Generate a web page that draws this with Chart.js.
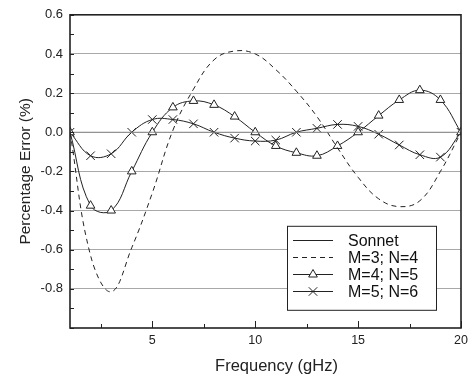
<!DOCTYPE html>
<html>
<head>
<meta charset="utf-8">
<script src="https://cdn.jsdelivr.net/npm/chart.js@4/dist/chart.umd.min.js"></script>
<style>
html,body{margin:0;padding:0;background:#fff;}
canvas{display:block;}
</style>
</head>
<body>
<canvas id="c" width="475" height="374"></canvas>
<script>
// ---- data ----
const freq = [1,2,3,4,5,6,7,8,9,10,11,12,13,14,15,16,17,18,19,20];
const sonnet = [0,0,0,0,0,0,0,0,0,0,0,0,0,0,0,0,0,0,0,0];
const m3n4 = [0,-0.63,-0.815,-0.59,-0.31,0.01,0.22,0.37,0.415,0.40,0.32,0.21,0.08,-0.08,-0.23,-0.34,-0.38,-0.35,-0.20,0];
const m4n5 = [0,-0.375,-0.40,-0.20,0.0,0.127,0.16,0.14,0.08,0.0,-0.07,-0.105,-0.12,-0.07,0.0,0.085,0.165,0.215,0.165,0];
const m5n6 = [0,-0.12,-0.11,0.0,0.065,0.065,0.043,0.0,-0.03,-0.045,-0.04,0.0,0.02,0.04,0.03,-0.01,-0.065,-0.115,-0.127,0];
const seriesLabels = ["Sonnet","M=3; N=4","M=4; N=5","M=5; N=6"];
const xTickValues = [5,10,15,20];
const yTickLabelValues = [0.6,0.4,0.2,0.0,-0.2,-0.4,-0.6,-0.8];
const xTitle = "Frequency (gHz)";
const yTitle = "Percentage Error (%)";

const FONT = "'Liberation Sans', Arial, sans-serif";
const pts = (arr) => freq.map((f,i)=>({x:f,y:arr[i]}));

const framePlugin = {
  id:'frame',
  afterDraw(chart){
    const {ctx, chartArea:a, scales:{x,y}} = chart;
    ctx.save();
    ctx.strokeStyle = '#222';
    ctx.lineWidth = 1;
    // y ticks every 0.1 inward
    for (let v=-10; v<=6; v++){
      const py = Math.round(y.getPixelForValue(v/10))+0.5;
      ctx.beginPath(); ctx.moveTo(a.left, py); ctx.lineTo(a.left+4, py); ctx.stroke();
    }
    // x ticks every 2.5 inward
    for (let v=2.5; v<=20; v+=2.5){
      const px = Math.round(x.getPixelForValue(v))+0.5;
      const len = (v%5===0)?7:4;
      ctx.beginPath(); ctx.moveTo(px, a.bottom); ctx.lineTo(px, a.bottom-len); ctx.stroke();
    }
    // frame
    ctx.lineWidth = 1.6;
    ctx.strokeRect(a.left, a.top, a.right-a.left, a.bottom-a.top);

    // x axis title
    const xt = chart.options.scales.x.title;
    ctx.fillStyle = '#222';
    ctx.font = '16.5px ' + FONT;
    ctx.textAlign = 'center';
    ctx.textBaseline = 'alphabetic';
    ctx.fillText(xt.text, (a.left+a.right)/2 + 11, a.bottom + 43);

    // legend
    ctx.textAlign = 'left';
    const ds = chart.data.datasets;
    const bx = a.right-174, by = a.top+211, bw = 149, bh = 84;
    ctx.fillStyle = '#fff';
    ctx.fillRect(bx, by, bw, bh);
    ctx.lineWidth = 1;
    ctx.strokeStyle = '#222';
    ctx.strokeRect(bx+0.5, by+0.5, bw, bh);
    ctx.font = '16px ' + FONT;
    ctx.textBaseline = 'middle';
    ds.forEach((d,i)=>{
      const ly = Math.round(by + 14 + i*17)+0.5;
      ctx.strokeStyle = '#222';
      ctx.lineWidth = 1;
      ctx.setLineDash(d.borderDash || []);
      ctx.beginPath(); ctx.moveTo(bx+6, ly); ctx.lineTo(bx+46, ly); ctx.stroke();
      ctx.setLineDash([]);
      if (d.pointStyle && d.pointRadius>0){
        ctx.fillStyle = d.pointBackgroundColor || 'transparent';
        ctx.strokeStyle = '#222';
        ctx.beginPath();
        if (d.pointStyle==='triangle'){
          const r=d.pointRadius;
          ctx.moveTo(bx+26, ly - r);
          ctx.lineTo(bx+26 + r*Math.sin(2*Math.PI/3), ly - r*Math.cos(2*Math.PI/3));
          ctx.lineTo(bx+26 + r*Math.sin(4*Math.PI/3), ly - r*Math.cos(4*Math.PI/3));
          ctx.closePath(); ctx.fill(); ctx.stroke();
        } else {
          const r=d.pointRadius*0.707;
          ctx.moveTo(bx+26-r, ly-r); ctx.lineTo(bx+26+r, ly+r);
          ctx.moveTo(bx+26-r, ly+r); ctx.lineTo(bx+26+r, ly-r);
          ctx.stroke();
        }
      }
      ctx.fillStyle = '#111';
      ctx.fillText(d.label, bx+61, ly+1);
    });
    ctx.restore();
  }
};

new Chart(document.getElementById('c'), {
  type:'line',
  data:{
    datasets:[
      {label:seriesLabels[0], data:pts(sonnet), borderColor:'#8a8a8a', borderWidth:1, pointRadius:0, tension:0.4},
      {label:seriesLabels[1], data:pts(m3n4), borderColor:'#222', borderWidth:1, borderDash:[5,4], pointRadius:0, tension:0.4},
      {label:seriesLabels[2], data:pts(m4n5), borderColor:'#222', borderWidth:1, pointStyle:'triangle', pointRadius:5, pointBorderColor:'#222', pointBackgroundColor:'#fff', pointBorderWidth:1, tension:0.4},
      {label:seriesLabels[3], data:pts(m5n6), borderColor:'#222', borderWidth:1, pointStyle:'crossRot', pointRadius:6, pointBorderColor:'#222', pointBorderWidth:1, tension:0.4}
    ]
  },
  options:{
    responsive:false,
    animation:false,
    events:[],
    layout:{padding:{left:0,right:14,top:13,bottom:0}},
    plugins:{legend:{display:false}, tooltip:{enabled:false}},
    scales:{
      x:{
        type:'linear', min:1, max:20,
        afterBuildTicks(s){ s.ticks = xTickValues.map(v=>({value:v})); },
        afterFit(s){ s.height = 46; },
        grid:{display:false, drawTicks:false},
        border:{display:false},
        ticks:{padding:5, color:'#222', font:{family:FONT, size:12.5}, maxRotation:0, callback:(v)=>String(v)},
        title:{display:false, text:xTitle, color:'#222', font:{family:FONT, size:16.5}}
      },
      y:{
        type:'linear', min:-1.0, max:0.6,
        afterBuildTicks(s){ s.ticks = [-1.0].concat(yTickLabelValues.slice().reverse()).map(v=>({value:v})); },
        afterFit(s){ s.width = 70; },
        grid:{drawTicks:false, color:(c)=>{const v=c.tick&&c.tick.value; return (Math.abs(v+1)<1e-6||Math.abs(v-0.6)<1e-6)?'rgba(0,0,0,0)':'#a8a8a8';}, lineWidth:1},
        border:{display:false},
        ticks:{padding:7, color:'#222', font:{family:FONT, size:13}, callback:(v)=> Math.abs(v+1)<1e-6 ? '' : v.toFixed(1)},
        title:{display:true, text:yTitle, color:'#222', font:{family:FONT, size:15.5}, padding:{top:16,bottom:0}}
      }
    }
  },
  plugins:[framePlugin]
});
</script>
</body>
</html>
